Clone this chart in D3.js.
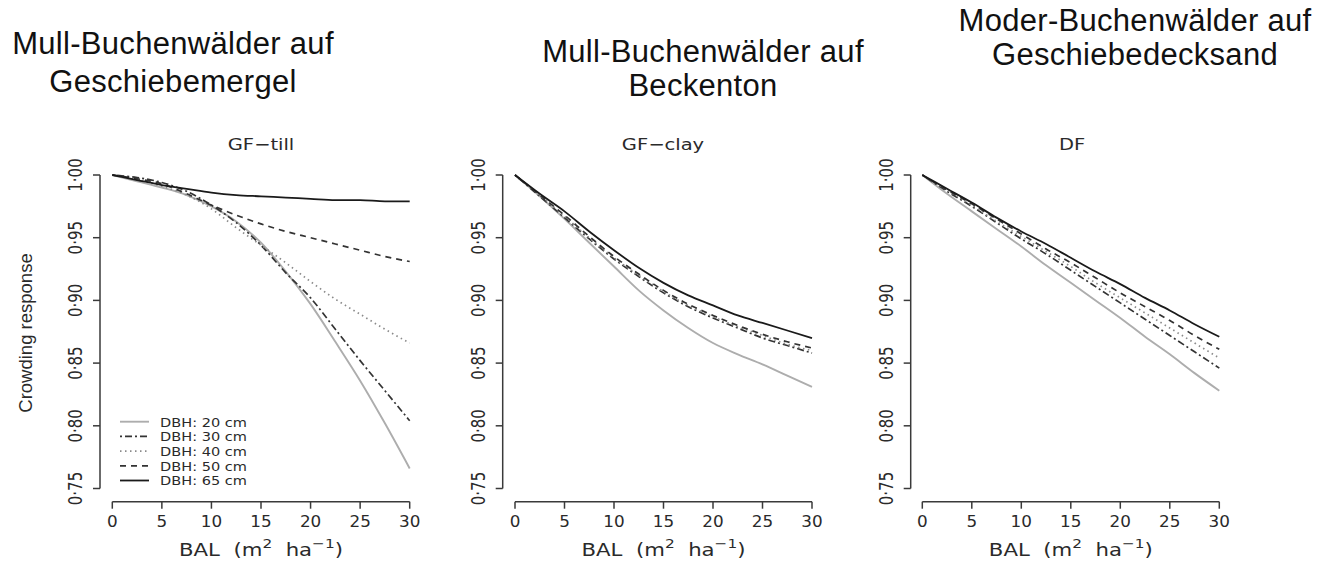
<!DOCTYPE html>
<html><head><meta charset="utf-8">
<script src="https://cdn.jsdelivr.net/npm/d3@7"></script>
<style>
html,body{margin:0;padding:0;background:#fff;}
svg text{white-space:pre;}
</style></head>
<body>
<svg id="chart" width="1317" height="562"></svg>
<script>
// ---------- DATA ----------
const balValues = [0, 2.5, 5, 7.5, 10, 12.5, 15, 17.5, 20, 22.5, 25, 27.5, 30];
const dbhLabels = ["DBH: 20 cm", "DBH: 30 cm", "DBH: 40 cm", "DBH: 50 cm", "DBH: 65 cm"];
const xTicks = [0, 5, 10, 15, 20, 25, 30];
const yTicks = [0.75, 0.80, 0.85, 0.90, 0.95, 1.00];
const panelCodes = ["GF\u2212till", "GF\u2212clay", "DF"];
const panelTitles = [
  ["Mull-Buchenwälder auf", "Geschiebemergel"],
  ["Mull-Buchenwälder auf", "Beckenton"],
  ["Moder-Buchenwälder auf", "Geschiebedecksand"]
];

// GF-till
const till20 = [1, 0.995, 0.990, 0.984, 0.975, 0.963, 0.946, 0.923, 0.897, 0.867, 0.836, 0.802, 0.766];
const till30 = [1, 0.998, 0.994, 0.987, 0.976, 0.962, 0.944, 0.922, 0.902, 0.877, 0.852, 0.828, 0.804];
const till40 = [1, 0.996, 0.991, 0.984, 0.973, 0.958, 0.944, 0.930, 0.915, 0.901, 0.889, 0.877, 0.866];
const till50 = [1, 0.997, 0.993, 0.985, 0.976, 0.968, 0.961, 0.955, 0.950, 0.945, 0.940, 0.935, 0.931];
const till65 = [1, 0.996, 0.992, 0.989, 0.986, 0.984, 0.983, 0.982, 0.981, 0.980, 0.980, 0.979, 0.979];
// GF-clay
const clay20 = [1, 0.983, 0.965, 0.946, 0.927, 0.908, 0.892, 0.878, 0.866, 0.857, 0.849, 0.840, 0.831];
const clay30 = [1, 0.983, 0.966, 0.949, 0.933, 0.919, 0.906, 0.895, 0.886, 0.878, 0.870, 0.864, 0.858];
const clay40 = [1, 0.984, 0.967, 0.950, 0.934, 0.920, 0.907, 0.896, 0.887, 0.879, 0.872, 0.865, 0.860];
const clay50 = [1, 0.984, 0.968, 0.951, 0.935, 0.921, 0.908, 0.897, 0.888, 0.880, 0.873, 0.867, 0.862];
const clay65 = [1, 0.985, 0.971, 0.955, 0.940, 0.926, 0.914, 0.904, 0.896, 0.888, 0.882, 0.876, 0.870];
// DF
const df20 = [1, 0.985, 0.971, 0.957, 0.943, 0.928, 0.914, 0.900, 0.886, 0.871, 0.857, 0.842, 0.828];
const df30 = [1, 0.987, 0.975, 0.962, 0.949, 0.937, 0.924, 0.911, 0.898, 0.885, 0.872, 0.859, 0.846];
const df40 = [1, 0.988, 0.976, 0.963, 0.951, 0.939, 0.927, 0.914, 0.902, 0.890, 0.878, 0.866, 0.854];
const df50 = [1, 0.988, 0.977, 0.965, 0.953, 0.941, 0.930, 0.918, 0.906, 0.895, 0.884, 0.872, 0.861];
const df65 = [1, 0.989, 0.978, 0.966, 0.955, 0.945, 0.934, 0.923, 0.913, 0.902, 0.892, 0.881, 0.871];

const panelSeries = [
  [till20, till30, till40, till50, till65],
  [clay20, clay30, clay40, clay50, clay65],
  [df20, df30, df40, df50, df65]
];

// ---------- STYLES ----------
const lineStyles = [
  {stroke: "#adadad", dash: null, width: 1.9},
  {stroke: "#333333", dash: "2,3,7,3", width: 1.7},
  {stroke: "#8a8a8a", dash: "1.5,3.5", width: 1.7},
  {stroke: "#333333", dash: "6,5", width: 1.7},
  {stroke: "#1a1a1a", dash: null, width: 1.8}
];

const layout = [
  {axisX: 100.0, x0: 112.3, x1: 409.7, titleX: 173, titleY: [54, 92], codeX: 261},
  {axisX: 502.7, x0: 515.0, x1: 812.0, titleX: 703, titleY: [62, 96], codeX: 663},
  {axisX: 910.7, x0: 922.3, x1: 1219.3, titleX: 1135, titleY: [31, 65], codeX: 1072}
];
const yTop = 175, yBottom = 488.5, xAxisY = 501.7;
const axisColor = "#3a3a3a";
const textColor = "#2a2a2a";
const plotFont = "'DejaVu Sans', sans-serif";
const titleFont = "'Liberation Sans', Arial, sans-serif";

const svg = d3.select("#chart");

panelSeries.forEach((series, p) => {
  const L = layout[p];
  const x = d3.scaleLinear().domain([0, 30]).range([L.x0, L.x1]);
  const y = d3.scaleLinear().domain([0.75, 1.00]).range([yBottom, yTop]);
  const g = svg.append("g");

  // Big German titles
  panelTitles[p].forEach((t, i) => {
    g.append("text").attr("x", L.titleX).attr("y", L.titleY[i])
      .attr("text-anchor", "middle").attr("font-family", titleFont)
      .attr("font-size", 31).attr("letter-spacing", 0.3).attr("fill", "#111").text(t);
  });

  // panel code
  g.append("text").attr("transform", `translate(${L.codeX},150) scale(1.22,1)`)
    .attr("text-anchor", "middle").attr("font-family", plotFont)
    .attr("font-size", 16).attr("fill", textColor).text(panelCodes[p]);

  // y axis
  const ya = g.append("g");
  ya.append("line").attr("x1", L.axisX).attr("x2", L.axisX)
    .attr("y1", y(1.00)).attr("y2", y(0.75))
    .attr("stroke", axisColor).attr("stroke-width", 1.5);
  yTicks.forEach(v => {
    ya.append("line").attr("x1", L.axisX - 7).attr("x2", L.axisX)
      .attr("y1", y(v)).attr("y2", y(v))
      .attr("stroke", axisColor).attr("stroke-width", 1.5);
    ya.append("text")
      .attr("transform", `translate(${L.axisX - 18},${y(v)}) rotate(-90) scale(1,1.35)`)
      .attr("text-anchor", "middle").attr("font-family", plotFont)
      .attr("font-size", 15).attr("fill", textColor)
      .text(d3.format(".2f")(v).replace(".", "\u00b7"));
  });

  // x axis
  const xa = g.append("g");
  xa.append("line").attr("x1", x(0)).attr("x2", x(30))
    .attr("y1", xAxisY).attr("y2", xAxisY)
    .attr("stroke", axisColor).attr("stroke-width", 1.5);
  xTicks.forEach(v => {
    xa.append("line").attr("x1", x(v)).attr("x2", x(v))
      .attr("y1", xAxisY).attr("y2", xAxisY + 7)
      .attr("stroke", axisColor).attr("stroke-width", 1.5);
    xa.append("text").attr("transform", `translate(${x(v)},527) scale(1.12,1)`)
      .attr("text-anchor", "middle").attr("font-family", plotFont)
      .attr("font-size", 15).attr("fill", textColor).text(v);
  });

  // x axis title
  const xt = g.append("text").attr("transform", `translate(${x(15)},556) scale(1.18,1)`)
    .attr("text-anchor", "middle").attr("font-family", plotFont)
    .attr("font-size", 18).attr("fill", textColor);
  xt.append("tspan").text("BAL  (m");
  xt.append("tspan").attr("dy", -8).attr("font-size", 13).text("2");
  xt.append("tspan").attr("dy", 8).text("  ha");
  xt.append("tspan").attr("dy", -8).attr("font-size", 13).text("\u22121");
  xt.append("tspan").attr("dy", 8).text(")");

  // lines
  const line = d3.line()
    .x((d, i) => x(balValues[i]))
    .y(d => y(d))
    .curve(d3.curveMonotoneX);
  series.forEach((s, k) => {
    const st = lineStyles[k];
    g.append("path").datum(s).attr("d", line)
      .attr("fill", "none").attr("stroke", st.stroke)
      .attr("stroke-width", st.width)
      .attr("stroke-dasharray", st.dash);
  });

  if (p === 0) {
    // y label
    g.append("text").attr("transform", `translate(32,333) rotate(-90)`)
      .attr("text-anchor", "middle").attr("font-family", titleFont)
      .attr("font-size", 18.5).attr("fill", textColor).text("Crowding response");
    // legend
    const legY = [421.7, 436.4, 451.1, 465.8, 480.5];
    dbhLabels.forEach((lab, k) => {
      const st = lineStyles[k];
      g.append("line").attr("x1", 120).attr("x2", 149)
        .attr("y1", legY[k]).attr("y2", legY[k])
        .attr("stroke", st.stroke).attr("stroke-width", st.width)
        .attr("stroke-dasharray", st.dash);
      g.append("text").attr("transform", `translate(160,${legY[k] + 4.8}) scale(1.12,1)`)
        .attr("font-family", plotFont).attr("font-size", 13)
        .attr("fill", textColor).text(lab);
    });
  }
});
</script>
</body></html>
